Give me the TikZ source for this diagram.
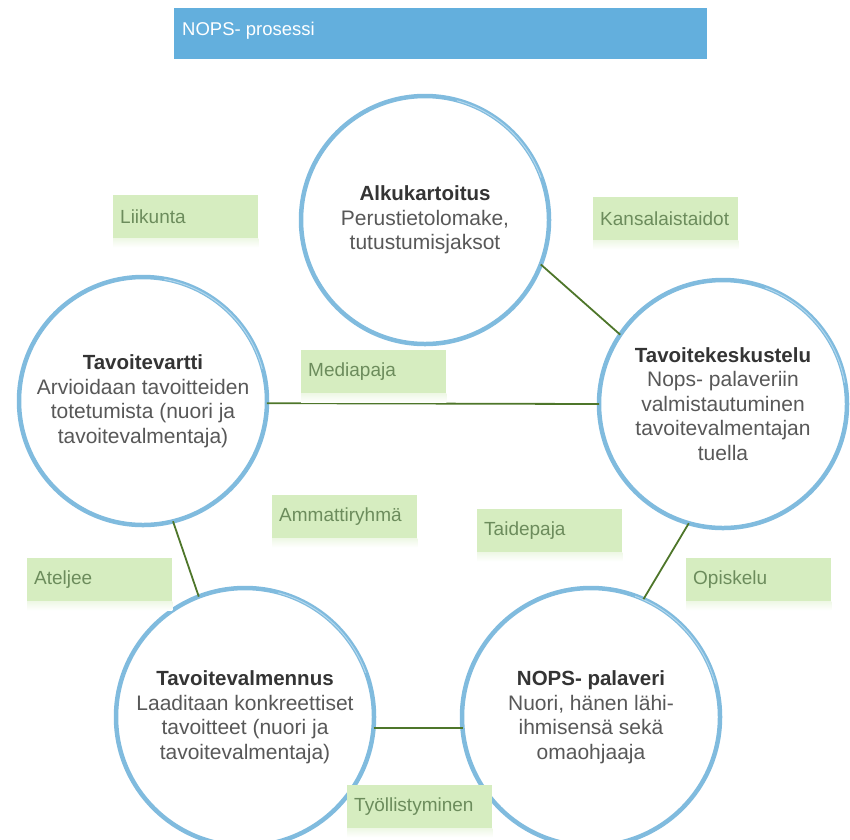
\documentclass[tikz,border=0pt]{standalone}
\usepackage{fontspec}
\setmainfont{Liberation Sans}
\usetikzlibrary{calc}
\definecolor{ringblue}{RGB}{128,187,222}
\definecolor{ringlight}{RGB}{196,225,242}
\definecolor{linkgreen}{RGB}{78,118,42}
\definecolor{boxgreen}{RGB}{214,237,192}
\definecolor{boxtext}{RGB}{108,140,92}
\definecolor{barblue}{RGB}{99,175,221}
\definecolor{bodygray}{RGB}{88,88,88}
\definecolor{headgray}{RGB}{52,52,52}
\newcommand\ringhead[1]{{\bfseries\fontsize{20.5}{24.5}\selectfont\color{headgray}#1}}
\begin{document}
\begin{tikzpicture}[x=1pt,y=1pt,
  ring/.style={circle, draw=ringblue, line width=4.5pt, fill=white, inner sep=0pt, outer sep=0pt,
    align=center, text=bodygray, font=\fontsize{21}{24.5}\selectfont},
  streak/.style={draw=ringlight, line width=0.9pt, opacity=0.8},
  link/.style={draw=linkgreen, line width=1.8pt},
  tag/.style={rectangle, fill=boxgreen, text=boxtext, anchor=north west, text width=131pt,
    inner xsep=7pt, inner ysep=0pt, minimum height=43pt, align=left,
    font=\fontsize{19}{22}\selectfont},
  bar/.style={rectangle, fill=barblue, anchor=north west, minimum width=533pt, minimum height=51pt,
    inner sep=0pt, outer sep=0pt},
  bartext/.style={anchor=base west, text=white, inner sep=0pt, font=\fontsize{18.5}{22}\selectfont},
  fade/.style={top color=boxgreen!40, bottom color=white}
]
\useasboundingbox (0,0) rectangle (850,-839);

% title
\node[bar] (bar) at (174,-8) {};
\node[bartext] (bartitle) at (182,-35) {NOPS- prosessi};

% connectors (drawn under the rings)
\coordinate (cA) at (425,-220);
\coordinate (cL) at (143,-401);
\coordinate (cR) at (723,-404);
\coordinate (cBL) at (245,-717);
\coordinate (cBR) at (591,-717);

% circles
\node[ring, minimum size=248pt] (A) at (cA)
  {\ringhead{Alkukartoitus}\\Perustietolomake,\\tutustumisjaksot};
\node[ring, minimum size=248pt] (L) at (cL)
  {\ringhead{Tavoitevartti}\\Arvioidaan tavoitteiden\\totetumista (nuori ja\\tavoitevalmentaja)};
\node[ring, minimum size=248pt] (R) at (cR)
  {\ringhead{Tavoitekeskustelu}\\Nops- palaveriin\\valmistautuminen\\tavoitevalmentajan\\tuella};
\node[ring, minimum size=258pt] (BL) at (cBL)
  {\ringhead{Tavoitevalmennus}\\Laaditaan konkreettiset\\tavoitteet (nuori ja\\tavoitevalmentaja)};
\node[ring, minimum size=258pt] (BR) at (cBR)
  {\ringhead{NOPS- palaveri}\\Nuori, hänen lähi-\\ihmisensä sekä\\omaohjaaja};

% brush streaks on the rings
\draw[streak] (A.center) ++(20:123.5) arc (20:75:123.5);
\draw[streak] (L.center) ++(15:123.5) arc (15:80:123.5);
\draw[streak] (R.center) ++(10:123.5) arc (10:70:123.5);
\draw[streak] (BL.center) ++(20:128.5) arc (20:75:128.5);
\draw[streak] (BR.center) ++(15:128.5) arc (15:70:128.5);

% connectors
\draw[link] (A.-21) -- (R.146);
\draw[link] (L.-1.4) -- (R.180);
\draw[link] (L.-76) -- (BL.111);
\draw[link] (R.-106) -- (BR.66);
\draw[link] (BL.-5) -- (BR.-175);

% activity tags
\node[tag] (liikunta) at (113,-195) {Liikunta};
\node[tag] (kansalais) at (593,-197) {Kansalaistaidot};
\node[tag] (media) at (301,-350) {Mediapaja};
\node[tag] (ammatti) at (272,-495) {Ammattiryhmä};
\node[tag] (taide) at (477,-509) {Taidepaja};
\node[tag] (ateljee) at (27,-558) {Ateljee};
\node[tag] (opiskelu) at (686,-558) {Opiskelu};
\node[tag] (tyo) at (347,-785) {Työllistyminen};

\foreach \n in {liikunta,kansalais,media,ammatti,taide,ateljee,opiskelu,tyo}
  \shade[fade] (\n.south west) rectangle ($(\n.south east)+(0,-9)$);
\end{tikzpicture}
\end{document}
